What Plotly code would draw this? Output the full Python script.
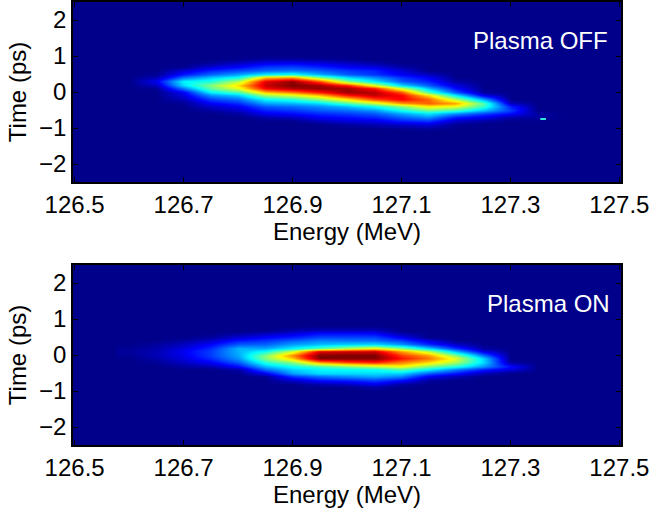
import numpy as np
import plotly.graph_objects as go

energy = [126.60,126.65,126.70,126.75,126.80,126.85,126.90,126.95,127.00,127.05,127.10,127.15,127.20,127.25,127.30,127.35,127.40]
time_desc = [1.0,0.9,0.8,0.7,0.6,0.5,0.4,0.3,0.2,0.1,0.0,-0.1,-0.2,-0.3,-0.4,-0.5,-0.6,-0.7,-0.8,-0.9,-1.0,-1.1]
xticks = [126.5,126.7,126.9,127.1,127.3,127.5]
yticks = [-2,-1,0,1,2]

# each row: one energy column, values from t=+1.0 down to t=-1.1
off_cols = [
 [0,0,0,0,0,0,0,0,0,0,0,0,0,0,0,0,0,0,0,0,0,0],
 [0,0,0,0,0,.01,.04,.10,.05,.01,0,0,0,0,0,0,0,0,0,0,0,0],
 [0,0,0,.01,.07,.13,.22,.36,.33,.23,.10,.08,.04,.01,0,0,0,0,0,0,0,0],
 [0,0,.02,.08,.14,.21,.31,.40,.50,.46,.35,.25,.17,.10,.06,.02,0,0,0,0,0,0],
 [0,.01,.06,.12,.18,.27,.38,.55,.66,.60,.44,.31,.22,.15,.10,.06,.02,0,0,0,0,0],
 [0,.03,.10,.17,.21,.35,.68,.90,.93,.88,.68,.52,.36,.27,.20,.14,.10,.03,0,0,0,0],
 [0,.03,.11,.18,.23,.38,.72,.98,1.0,.95,.75,.58,.40,.29,.22,.16,.12,.05,0,0,0,0],
 [0,.02,.09,.15,.20,.28,.50,.80,.97,.98,.85,.68,.50,.33,.25,.20,.15,.10,.04,0,0,0],
 [0,.01,.06,.11,.16,.20,.33,.50,.85,.97,.97,.85,.64,.44,.30,.22,.17,.12,.07,.02,0,0],
 [0,0,.03,.09,.14,.16,.25,.35,.60,.85,.95,.93,.80,.56,.38,.26,.20,.14,.08,.04,0,0],
 [0,0,0,.03,.07,.10,.16,.20,.33,.58,.80,.88,.88,.72,.50,.38,.28,.20,.13,.06,.01,0],
 [0,0,0,0,0,.05,.10,.14,.20,.30,.45,.66,.78,.78,.64,.48,.35,.25,.15,.08,.02,0],
 [0,0,0,0,0,0,0,.03,.08,.12,.20,.36,.55,.72,.60,.43,.26,.13,.05,.01,0,0],
 [0,0,0,0,0,0,0,0,0,0,.02,.10,.28,.45,.42,.30,.18,.09,.02,0,0,0],
 [0,0,0,0,0,0,0,0,0,0,0,0,0,.05,.14,.17,.12,.03,0,0,0,0],
 [0,0,0,0,0,0,0,0,0,0,0,0,0,0,0,0,.02,.02,0,0,0,0],
 [0,0,0,0,0,0,0,0,0,0,0,0,0,0,0,0,0,0,0,0,0,0],
]
on_cols = [
 [0,0,0,0,0,0,0,0,.01,.015,.01,0,0,0,0,0,0,0,0,0,0,0],
 [0,0,0,0,0,0,0,.02,.03,.04,.04,.03,.01,0,0,0,0,0,0,0,0,0],
 [0,0,0,0,0,0,.02,.05,.08,.10,.09,.08,.05,.02,0,0,0,0,0,0,0,0],
 [0,0,0,0,0,.02,.06,.11,.15,.17,.17,.15,.10,.04,0,0,0,0,0,0,0,0],
 [0,0,0,0,.02,.07,.13,.20,.29,.29,.28,.26,.20,.12,.03,0,0,0,0,0,0,0],
 [0,0,0,0,.05,.11,.16,.21,.28,.38,.50,.50,.40,.30,.22,.10,.01,0,0,0,0,0],
 [0,0,0,.03,.08,.14,.20,.27,.36,.58,.74,.68,.50,.38,.32,.27,.16,.06,0,0,0,0],
 [0,0,0,.05,.12,.18,.24,.30,.45,.90,1.0,1.0,.72,.44,.36,.33,.22,.12,.03,0,0,0],
 [0,0,0,.05,.12,.18,.23,.32,.55,.92,1.0,1.0,.80,.50,.37,.33,.25,.14,.05,0,0,0],
 [0,0,0,.05,.11,.18,.22,.33,.63,.92,1.0,1.0,.84,.56,.38,.33,.28,.17,.09,.02,0,0],
 [0,0,0,0,.03,.10,.17,.26,.50,.72,.82,.86,.75,.62,.45,.32,.24,.12,.02,0,0,0],
 [0,0,0,0,0,0,.08,.15,.32,.56,.72,.76,.66,.50,.36,.20,.10,.02,0,0,0,0],
 [0,0,0,0,0,0,0,.06,.16,.30,.50,.60,.54,.40,.24,.13,.04,0,0,0,0,0],
 [0,0,0,0,0,0,0,0,.02,.09,.22,.32,.33,.26,.14,.04,0,0,0,0,0,0],
 [0,0,0,0,0,0,0,0,0,0,0,0,.02,.12,.08,0,0,0,0,0,0,0],
 [0,0,0,0,0,0,0,0,0,0,0,0,0,0,0,0,0,0,0,0,0,0],
 [0,0,0,0,0,0,0,0,0,0,0,0,0,0,0,0,0,0,0,0,0,0],
]
spot_e = [127.36]
spot_t = [-0.75]

W, H = 680, 511
BG = "#00008B"
jet = [[0,BG],[0.11,"#0000ff"],[0.365,"#00ffff"],[0.625,"#ffff00"],[0.875,"#ff0000"],[1,"#800000"]]
FONT = "Liberation Sans, Arial, sans-serif"
time_asc = time_desc[::-1]

fig = go.Figure()
for cols, xa, ya in [(off_cols,"x","y"),(on_cols,"x2","y2")]:
    z = np.array(cols).T[::-1]
    fig.add_trace(go.Heatmap(x=energy,y=time_asc,z=z.tolist(),zmin=0,zmax=1,colorscale=jet,
                             zsmooth="best",showscale=False,xaxis=xa,yaxis=ya,hoverinfo="skip"))
fig.add_trace(go.Scatter(x=spot_e,y=spot_t,mode="markers",xaxis="x",yaxis="y",showlegend=False,
    marker=dict(symbol="line-ew",size=4,line=dict(width=2,color="#30e8d8"))))

def xax(anchor,top,bot):
    return dict(range=[126.497,127.503],domain=[73/W,621/W],anchor=anchor,tickvals=xticks,automargin=False,
        ticktext=[f"{v:.1f}" for v in xticks],ticks="inside",ticklen=5,tickwidth=1,tickcolor="black",
        showline=True,linecolor="black",linewidth=1.5,mirror="allticks",showgrid=False,zeroline=False,
        tickfont=dict(size=24,color="black",family=FONT),
        title=dict(text="Energy (MeV)",font=dict(size=24,color="black",family=FONT),standoff=0))
def yax(anchor,top,bot):
    return dict(range=[-2.5,2.5],domain=[1-bot/H,1-top/H],anchor=anchor,tickvals=yticks,automargin=False,
        ticks="inside",ticklen=5,tickwidth=1,tickcolor="black",
        showline=True,linecolor="black",linewidth=1.5,mirror="allticks",showgrid=False,zeroline=False,
        tickfont=dict(size=24,color="black",family=FONT),
        title=dict(text="Time (ps)",font=dict(size=24,color="black",family=FONT),standoff=6))

fig.update_layout(width=W,height=H,margin=dict(l=0,r=0,t=0,b=0),paper_bgcolor="white",plot_bgcolor=BG,
    showlegend=False,
    xaxis=xax("y",2,182),yaxis=yax("x",2,182),xaxis2=xax("y2",265,445),yaxis2=yax("x2",265,445),
    annotations=[
      dict(text="Plasma OFF",x=610/W,y=1-40/H,xref="paper",yref="paper",xanchor="right",yanchor="middle",showarrow=False,
           font=dict(size=24,color="white",family=FONT)),
      dict(text="Plasma ON",x=612/W,y=1-303/H,xref="paper",yref="paper",xanchor="right",yanchor="middle",showarrow=False,
           font=dict(size=24,color="white",family=FONT)),
    ])
fig.write_html("out.html",config=dict(displayModeBar=False),post_script="document.body.style.margin='0';document.documentElement.style.overflow='hidden';document.body.style.overflow='hidden';")
